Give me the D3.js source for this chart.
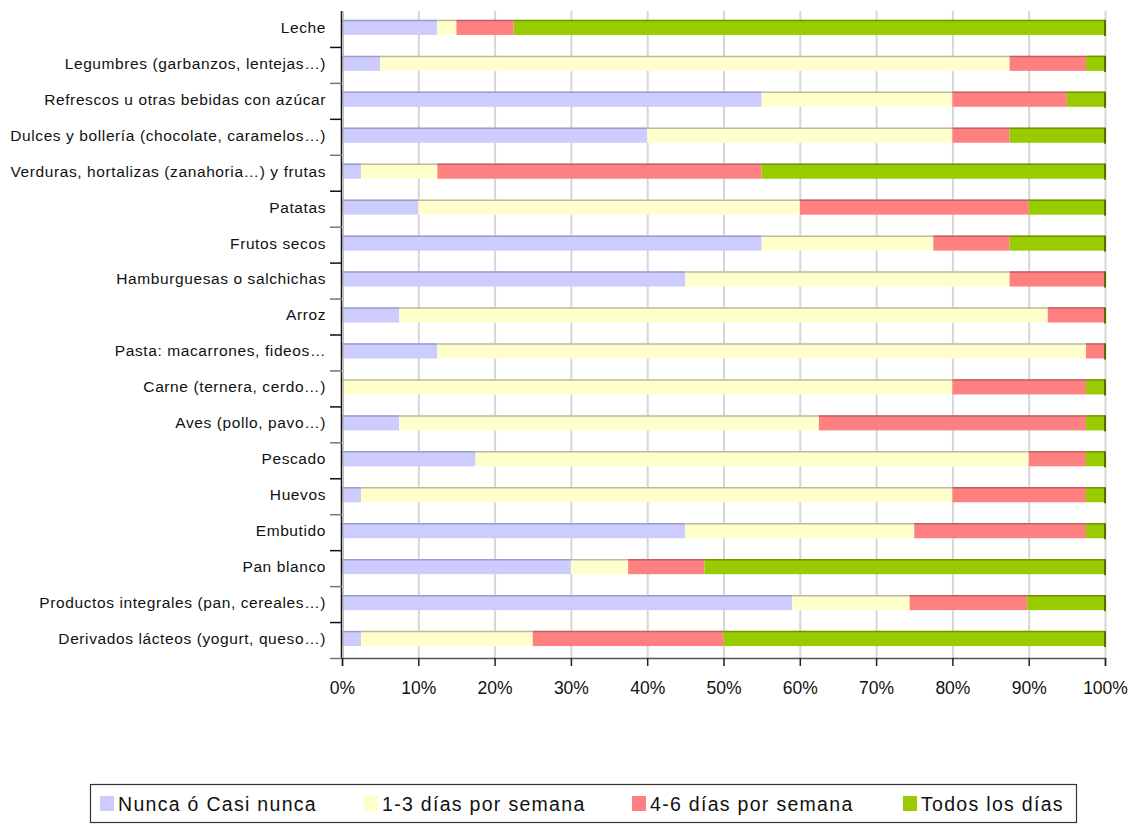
<!DOCTYPE html>
<html>
<head>
<meta charset="utf-8">
<script src="https://cdn.jsdelivr.net/npm/d3@7"></script>
<style>
  body { margin: 0; background: #fff; }
  svg { font-family: "Liberation Sans", Arial, sans-serif; }
</style>
</head>
<body>
<svg id="chart" width="1136" height="824"></svg>
<script>
// Categorías (de arriba a abajo)
const categorias = [
  "Leche",
  "Legumbres (garbanzos, lentejas…)",
  "Refrescos u otras bebidas con azúcar",
  "Dulces y bollería (chocolate, caramelos…)",
  "Verduras, hortalizas (zanahoria…) y frutas",
  "Patatas",
  "Frutos secos",
  "Hamburguesas o salchichas",
  "Arroz",
  "Pasta: macarrones, fideos…",
  "Carne (ternera, cerdo…)",
  "Aves (pollo, pavo…)",
  "Pescado",
  "Huevos",
  "Embutido",
  "Pan blanco",
  "Productos integrales (pan, cereales…)",
  "Derivados lácteos (yogurt, queso…)"
];

const series = ["Nunca ó Casi nunca", "1-3 días por semana", "4-6 días por semana", "Todos los días"];

// Porcentajes por serie
const nunca   = [12.5, 5,    55, 40,   2.5,  10, 55,   45,   7.5, 12.5, 0,    7.5, 17.5, 2.5,  45,   30,  59.0, 2.5];
const dias13  = [2.5,  82.5, 25, 40,   10,   50, 22.5, 42.5, 85,  85,   80,   55,  72.5, 77.5, 30,   7.5, 15.4, 22.5];
const dias46  = [7.5,  10,   15, 7.5,  42.5, 30, 10,   12.5, 7.5, 2.5,  17.5, 35,  7.5,  17.5, 22.5, 10,  15.4, 25];
const todos   = [77.5, 2.5,  5,  12.5, 45,   10, 12.5, 0,    0,   0,    2.5,  2.5, 2.5,  2.5,  2.5,  52.5, 10.2, 50];

const ticks = [0, 10, 20, 30, 40, 50, 60, 70, 80, 90, 100];

const colores  = ["#ccccff", "#ffffcc", "#ff8080", "#99cc00"];
const bordes   = ["#9a9acc", "#bbbb99", "#c06060", "#6f9400"];

const rows = categorias.map((c, i) => ({
  cat: c,
  "Nunca ó Casi nunca": nunca[i],
  "1-3 días por semana": dias13[i],
  "4-6 días por semana": dias46[i],
  "Todos los días": todos[i]
}));

const svg = d3.select("#chart");
const plotLeft = 342, plotRight = 1105, plotTop = 11, plotBottom = 658;

const x = d3.scaleLinear().domain([0, 100]).range([plotLeft, plotRight]);
const yBand = d3.scaleBand().domain(categorias).range([plotTop, plotBottom]);
const y = d3.scaleBand().domain(categorias).range([plotTop - 1.5, plotBottom - 1.5]).paddingInner(0.583).paddingOuter(0.29);

// Líneas de cuadrícula
svg.append("g").selectAll("line")
  .data(ticks.slice(1))
  .enter().append("line")
  .attr("x1", d => x(d) + 0.5).attr("x2", d => x(d) + 0.5)
  .attr("y1", plotTop).attr("y2", plotBottom)
  .attr("stroke", "#d6d6d6").attr("stroke-width", 2);

// Barras apiladas
const stack = d3.stack().keys(series)(rows);

const capas = svg.append("g").selectAll("g")
  .data(stack)
  .enter().append("g");

capas.selectAll("rect")
  .data((d, i) => d.map(p => ({ p: p, i: i })))
  .enter().append("rect")
  .attr("x", d => x(d.p[0]))
  .attr("y", d => y(d.p.data.cat))
  .attr("width", d => x(d.p[1]) - x(d.p[0]))
  .attr("height", y.bandwidth())
  .attr("fill", d => colores[d.i]);

// Borde superior más oscuro (efecto 3D)
capas.selectAll("line")
  .data((d, i) => d.map(p => ({ p: p, i: i })).filter(d => d.p[1] > d.p[0]))
  .enter().append("line")
  .attr("x1", d => x(d.p[0])).attr("x2", d => x(d.p[1]))
  .attr("y1", d => y(d.p.data.cat) + 0.5).attr("y2", d => y(d.p.data.cat) + 0.5)
  .attr("stroke", d => bordes[d.i]).attr("stroke-width", 1.5);

// Borde derecho oscuro al final de cada barra
svg.append("g").selectAll("rect")
  .data(rows)
  .enter().append("rect")
  .attr("x", x(100) - 1)
  .attr("y", d => y(d.cat))
  .attr("width", 2)
  .attr("height", y.bandwidth() + 1)
  .attr("fill", "#5a6e00");

// Eje izquierdo
svg.append("line")
  .attr("x1", plotLeft - 0.5).attr("x2", plotLeft - 0.5)
  .attr("y1", plotTop).attr("y2", plotBottom)
  .attr("stroke", "#111").attr("stroke-width", 1.5);
svg.append("line")
  .attr("x1", plotLeft + 1.5).attr("x2", plotLeft + 1.5)
  .attr("y1", plotTop).attr("y2", plotBottom)
  .attr("stroke", "#bbb").attr("stroke-width", 1);

svg.append("g").selectAll("line")
  .data(categorias)
  .enter().append("line")
  .attr("x1", plotLeft - 12).attr("x2", plotLeft)
  .attr("y1", d => yBand(d) + yBand.step() + 0.5)
  .attr("y2", d => yBand(d) + yBand.step() + 0.5)
  .attr("stroke", (d, i) => i % 2 ? "#777" : "#111").attr("stroke-width", 1.5);

// Etiquetas de categorías
svg.append("g").selectAll("text")
  .data(categorias)
  .enter().append("text")
  .attr("x", 326)
  .attr("y", d => y(d) + y.bandwidth() / 2)
  .attr("dy", "0.35em")
  .attr("text-anchor", "end")
  .attr("font-size", "15.5px")
  .attr("letter-spacing", "0.6px")
  .attr("fill", "#111")
  .text(d => d);

// Eje inferior
const xAxis = svg.append("g")
  .attr("transform", `translate(0,${plotBottom})`)
  .call(d3.axisBottom(x).tickValues(ticks).tickSize(8).tickFormat(d => d + "%"));
xAxis.select(".domain").attr("stroke", "#555").attr("stroke-width", 1.5);
xAxis.selectAll(".tick line").attr("stroke", "#222").attr("stroke-width", 1.5);
xAxis.selectAll(".tick text")
  .attr("font-family", "Liberation Sans, Arial, sans-serif")
  .attr("font-size", "17.5px")
  .attr("fill", "#111")
  .attr("y", 24);

// Leyenda
const leyenda = svg.append("g");
leyenda.append("rect")
  .attr("x", 90.5).attr("y", 784.5)
  .attr("width", 986).attr("height", 38)
  .attr("fill", "#fff").attr("stroke", "#333").attr("stroke-width", 1.2);

const posLeyenda = d3.scaleOrdinal().domain(series).range([100, 364, 632, 903]);

const item = leyenda.selectAll("g")
  .data(series)
  .enter().append("g")
  .attr("transform", d => `translate(${posLeyenda(d)},796)`);
item.append("rect")
  .attr("width", 14).attr("height", 15)
  .attr("fill", (d, i) => colores[i]);
item.append("text")
  .attr("x", 18).attr("y", 8)
  .attr("dy", "0.36em")
  .attr("font-size", "19.5px")
  .attr("letter-spacing", "1.3px")
  .attr("fill", "#111")
  .text(d => d);
</script>
</body>
</html>
